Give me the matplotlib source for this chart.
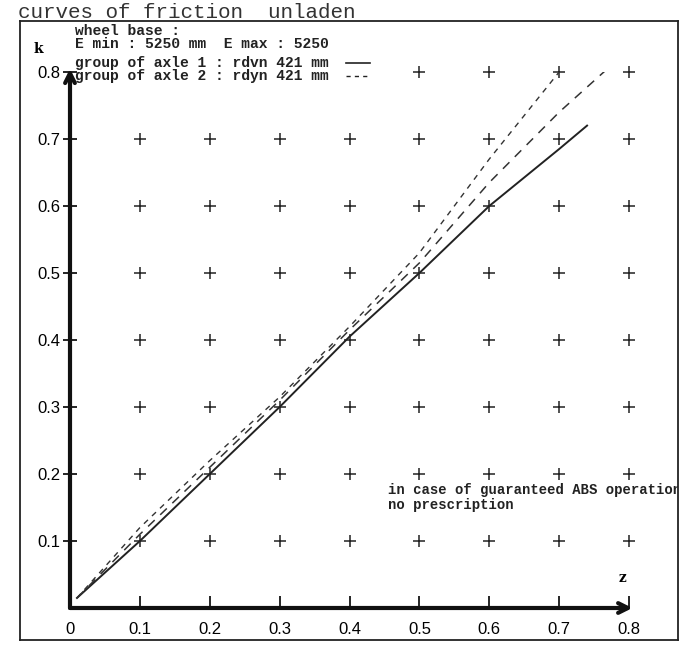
import matplotlib
matplotlib.use("Agg")
import matplotlib.pyplot as plt

# curves
solid_z = [0.01, 0.1, 0.2, 0.3, 0.4, 0.5, 0.6, 0.7, 0.74]
solid_k = [0.015, 0.1, 0.2, 0.3, 0.405, 0.5, 0.6, 0.685, 0.72]

mid_z = [0.01, 0.1, 0.2, 0.3, 0.4, 0.5, 0.6, 0.7, 0.78]
mid_k = [0.015, 0.11, 0.21, 0.31, 0.415, 0.515, 0.635, 0.74, 0.815]

up_z = [0.01, 0.1, 0.2, 0.3, 0.4, 0.5, 0.6, 0.7, 0.735]
up_k = [0.015, 0.12, 0.22, 0.315, 0.42, 0.53, 0.67, 0.80, 0.85]

ticks = [0.1, 0.2, 0.3, 0.4, 0.5, 0.6, 0.7, 0.8]
x_labels = ["0", "0.1", "0.2", "0.3", "0.4", "0.5", "0.6", "0.7", "0.8"]
y_labels = ["0.1", "0.2", "0.3", "0.4", "0.5", "0.6", "0.7", "0.8"]

legend_lines = ["wheel base :",
                "E min : 5250 mm  E max : 5250",
                "group of axle 1 : rdvn 421 mm",
                "group of axle 2 : rdyn 421 mm"]
note_lines = ["in case of guaranteed ABS operation", "no prescription"]

W, H = 687, 645
fig = plt.figure(figsize=(W / 100, H / 100), dpi=100)

# outer frame
frame = fig.add_axes([20 / W, 1 - 640 / H, (678 - 20) / W, (640 - 21) / H])
frame.set_xlim(0, 1)
frame.set_ylim(0, 1)
frame.set_xticks([])
frame.set_yticks([])
for s in frame.spines.values():
    s.set_linewidth(1.3)
    s.set_color("#222222")

fig.text(18 / W, 1 - 18 / H, "curves of friction  unladen", family="Liberation Mono",
         fontsize=15, va="baseline", ha="left", color="#333333")

ax = fig.add_axes([70 / W, 1 - 608 / H, (629 - 70) / W, (608 - 72) / H])
ax.patch.set_alpha(0)
ax.set_xlim(0, 0.8)
ax.set_ylim(0, 0.8)
for s in ax.spines.values():
    s.set_visible(False)

# grid of plus marks
px, py = [], []
for y in ticks:
    for x in ticks:
        if y == 0.8 and x < 0.45:
            continue
        px.append(x)
        py.append(y)
ax.plot(px, py, linestyle="none", marker="+", markersize=8.5, markeredgewidth=1.1,
        color="#222222", clip_on=False)

ax.plot(solid_z, solid_k, color="#222222", lw=1.4)
ax.plot(mid_z, mid_k, color="#333333", lw=1.1, dashes=(6, 5))
ax.plot(up_z, up_k, color="#333333", lw=1.0, dashes=(4, 4))

# axes arrows
arrow = dict(arrowstyle="->, head_length=0.7, head_width=0.35", lw=3, color="#111111",
             shrinkA=0, shrinkB=0)
ax.annotate("", xy=(0, 0.805), xytext=(0, 0), arrowprops=arrow, annotation_clip=False)
ax.annotate("", xy=(0.805, 0), xytext=(0, 0), arrowprops=arrow, annotation_clip=False)

ax.set_xticks([0] + ticks)
ax.set_xticklabels(x_labels, family="Liberation Sans", fontsize=12)
ax.set_yticks(ticks)
ax.set_yticklabels(y_labels, family="Liberation Sans", fontsize=12)
ax.tick_params(axis="x", direction="in", length=9, width=1.2, pad=10)
ax.tick_params(axis="y", direction="inout", length=10, width=1.2, pad=2)

ax.text(-0.046, 0.835, "k", family="DejaVu Serif", fontsize=10, fontweight="bold",
        ha="center", va="center", clip_on=False)
ax.text(0.79, 0.045, "z", family="DejaVu Serif", fontsize=10, fontweight="bold",
        ha="center", va="center")

# legend block
ly = [31, 44, 63, 76]
for txt, y in zip(legend_lines, ly):
    fig.text(75 / W, 1 - y / H, txt, family="Liberation Mono", fontsize=10.5,
             fontweight="bold", va="center", ha="left", color="#222222")
fig.add_artist(plt.Line2D([346 / W, 370 / W], [1 - 63 / H, 1 - 63 / H],
                          color="#222222", lw=1.2))
fig.add_artist(plt.Line2D([346 / W, 370 / W], [1 - 76 / H, 1 - 76 / H],
                          color="#222222", lw=1.0, dashes=(3, 3)))

# note near the bottom right, clipped by the frame
for txt, y in zip(note_lines, [490, 505]):
    frame.text((388 - 20) / 658, (640 - y) / 619, txt, family="Liberation Mono",
               fontsize=10, fontweight="bold", va="center", ha="left",
               color="#222222", transform=frame.transAxes, clip_on=True)

fig.savefig("out.png", dpi=100)
